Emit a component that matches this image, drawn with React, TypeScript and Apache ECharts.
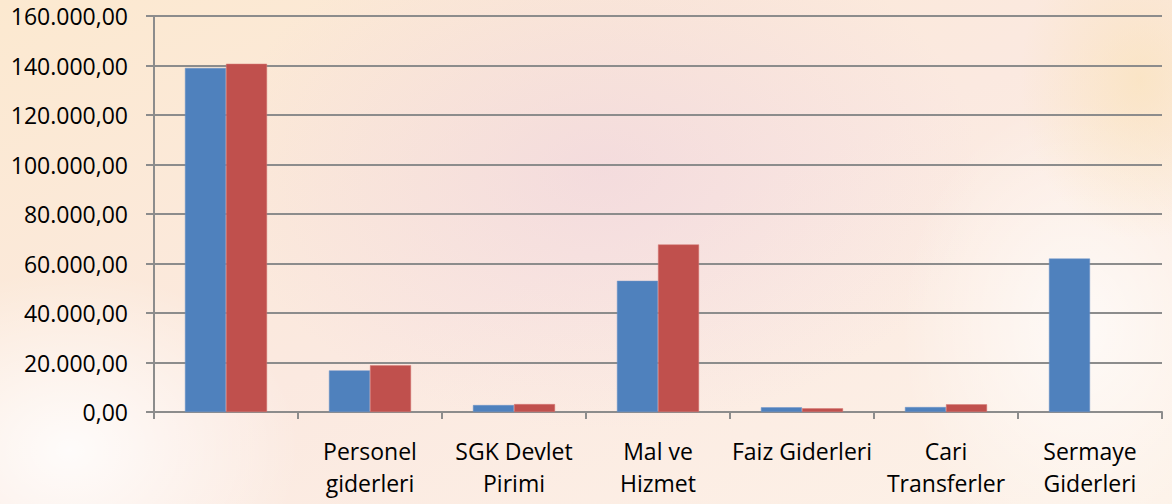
import React, { useEffect, useRef } from "react";
import * as echarts from "echarts";

const categories = [
  "",
  "Personel\ngiderleri",
  "SGK Devlet\nPirimi",
  "Mal ve\nHizmet",
  "Faiz Giderleri",
  "Cari\nTransferler",
  "Sermaye\nGiderleri",
];
const seriesBlue = [139000, 16800, 2800, 53000, 1900, 2000, 62000];
const seriesRed: (number | null)[] = [140700, 18900, 3200, 67700, 1500, 3100, null];
const yMin = 0;
const yMax = 160000;
const yStep = 20000;

function formatTr(v: number): string {
  const s = Math.round(v).toString();
  const withDots = s.replace(/\B(?=(\d{3})+(?!\d))/g, ".");
  return withDots + ",00";
}

function radial(inner: string, outer: string) {
  return {
    type: "radial",
    x: 0.5,
    y: 0.5,
    r: 0.5,
    colorStops: [
      { offset: 0, color: inner },
      { offset: 1, color: outer },
    ],
  };
}

export default function App() {
  const ref = useRef<HTMLDivElement>(null);
  useEffect(() => {
    if (!ref.current) return;
    const chart = echarts.init(ref.current, undefined, { renderer: "svg" });
    const font = "'Open Sans', sans-serif";
    chart.setOption({
      animation: false,
      backgroundColor: {
        type: "linear",
        x: 0,
        y: 0,
        x2: 1,
        y2: 1,
        colorStops: [
          { offset: 0, color: "#FCE9D0" },
          { offset: 0.5, color: "#FBE9E0" },
          { offset: 1, color: "#FDF2E8" },
        ],
      },
      graphic: [
        {
          type: "ellipse",
          shape: { cx: 600, cy: 170, rx: 380, ry: 260 },
          style: { fill: radial("rgba(230,195,220,0.35)", "rgba(230,195,220,0)") },
          silent: true,
          z: -10,
        },
        {
          type: "ellipse",
          shape: { cx: 70, cy: 450, rx: 230, ry: 180 },
          style: { fill: radial("rgba(255,255,255,0.85)", "rgba(255,255,255,0)") },
          silent: true,
          z: -10,
        },
        {
          type: "ellipse",
          shape: { cx: 1080, cy: 330, rx: 180, ry: 230 },
          style: { fill: radial("rgba(255,255,255,0.7)", "rgba(255,255,255,0)") },
          silent: true,
          z: -10,
        },
        {
          type: "ellipse",
          shape: { cx: 1140, cy: 80, rx: 120, ry: 160 },
          style: { fill: radial("rgba(250,225,180,0.6)", "rgba(250,225,180,0)") },
          silent: true,
          z: -10,
        },
      ],
      grid: { left: 154, right: 10, top: 16, bottom: 92, containLabel: false },
      xAxis: {
        type: "category",
        data: categories,
        axisLine: { show: true, lineStyle: { color: "#8C8C8C", width: 2 } },
        axisTick: { show: true, length: 7, lineStyle: { color: "#8C8C8C", width: 2 }, alignWithLabel: false },
        axisLabel: {
          interval: 0,
          margin: 23,
          color: "#000",
          fontFamily: font,
          fontSize: 23,
          lineHeight: 32,
        },
      },
      yAxis: {
        type: "value",
        min: yMin,
        max: yMax,
        interval: yStep,
        axisLine: { show: true, lineStyle: { color: "#8C8C8C", width: 2 } },
        axisTick: { show: true, length: 8, lineStyle: { color: "#8C8C8C", width: 2 } },
        splitLine: { show: true, lineStyle: { color: "#8C8C8C", width: 2 } },
        axisLabel: {
          margin: 26,
          color: "#000",
          fontFamily: font,
          fontSize: 23,
          formatter: (v: number) => formatTr(v),
        },
      },
      series: [
        {
          type: "bar",
          data: seriesBlue,
          barGap: "0%",
          barCategoryGap: "43%",
          itemStyle: { color: "#4F81BD", borderColor: "#6F95C8", borderWidth: 0.5 },
        },
        {
          type: "bar",
          data: seriesRed,
          barGap: "0%",
          barCategoryGap: "43%",
          itemStyle: { color: "#C0504D", borderColor: "#D77A77", borderWidth: 0.5 },
        },
      ],
    });
    return () => chart.dispose();
  }, []);
  return (
    <div
      ref={ref}
      style={{ position: "fixed", left: 0, top: 0, width: 1172, height: 504 }}
    />
  );
}
